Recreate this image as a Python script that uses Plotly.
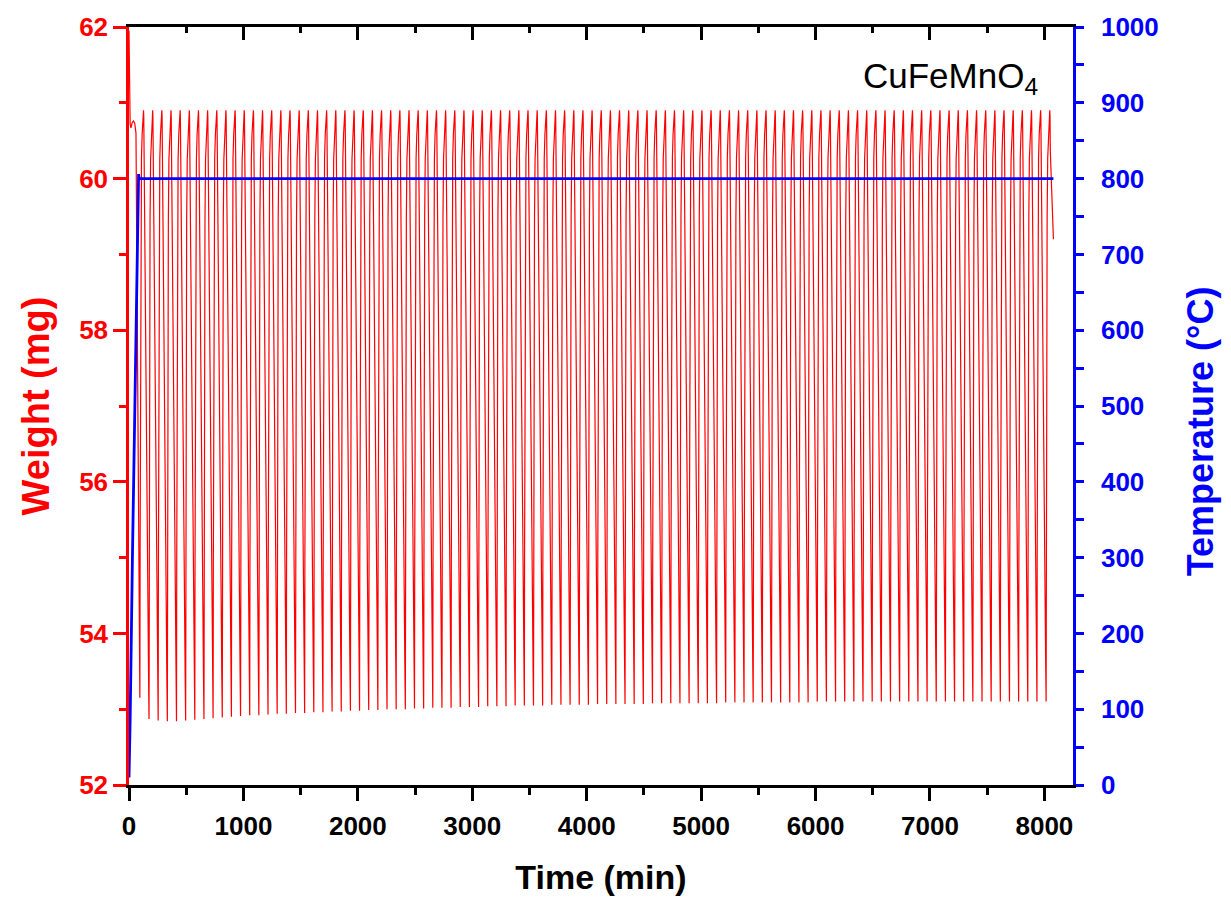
import numpy as np
import plotly.graph_objects as go

# ---------------- data ----------------
period = 80.0            # min per redox cycle
first_trough_time = 95.0 # min
peaks = [60.90] * 100
troughs = [53.15,
           52.87, 52.85, 52.84, 52.84, 52.85, 52.86, 52.87, 52.88, 52.89, 52.90,
           52.91, 52.92, 52.92, 52.93, 52.94, 52.94, 52.95, 52.95, 52.96, 52.96,
           52.97, 52.97, 52.98, 52.98, 52.99, 52.99, 53.00, 53.00, 53.00, 53.01,
           53.01, 53.02, 53.02, 53.02, 53.03, 53.03, 53.03, 53.04, 53.04, 53.04,
           53.05, 53.05, 53.05, 53.05, 53.06, 53.06, 53.06, 53.06, 53.06, 53.07,
           53.07, 53.07, 53.07, 53.07, 53.07, 53.08, 53.08, 53.08, 53.08, 53.08,
           53.08, 53.08, 53.08, 53.09, 53.09, 53.09, 53.09, 53.09, 53.09, 53.09,
           53.09, 53.09, 53.09, 53.10, 53.10, 53.10, 53.10, 53.10, 53.10, 53.10,
           53.10, 53.10, 53.10, 53.10, 53.10, 53.10, 53.10, 53.10, 53.10, 53.10,
           53.10, 53.10, 53.10, 53.10, 53.10, 53.10, 53.10, 53.10, 53.10]
# start of the run (before the first reduction)
start_time = [0, 4, 10, 17, 28, 39, 50, 61, 70, 80, 88]
start_weight = [61.95, 61.2, 60.72, 60.67, 60.74, 60.76, 60.73, 60.60, 58.5, 55.6, 53.9]
end_time = 8079
end_weight = 59.2

# one cycle shape (minutes after trough, fraction trough->peak)
rise_t = [0, 2, 5, 9, 14, 20, 26, 30, 32]
rise_f = [0.0, 0.25, 0.6, 0.82, 0.92, 0.96, 0.98, 0.995, 1.0]
fall_t = [34, 37, 42, 50, 60, 70, 76]
fall_f = [0.99, 0.93, 0.80, 0.60, 0.38, 0.18, 0.07]

temp_time = [0, 10, 30, 50, 70, 80, 84, 88, 95, 8079]
temp_val = [10, 85, 300, 510, 720, 790, 806, 801, 800, 800]

# ---------------- build weight trace ----------------
wt = list(start_time)
ww = list(start_weight)
n = len(peaks)
for k in range(n):
    T = first_trough_time + period * k
    lo, hi = troughs[k], peaks[k]
    for t, f in zip(rise_t, rise_f):
        wt.append(T + t); ww.append(lo + f * (hi - lo))
    if k + 1 < n:
        nlo = troughs[k + 1]
        for t, f in zip(fall_t, fall_f):
            wt.append(T + t); ww.append(nlo + f * (hi - nlo))
    else:
        for t, f in zip(fall_t[:2], fall_f[:2]):
            wt.append(T + t); ww.append(lo + f * (hi - lo))
        wt.append(end_time); ww.append(end_weight)

FONT = "Arial, Liberation Sans, sans-serif"
RED = "#ff0000"
BLUE = "#0000ff"

fig = go.Figure()
fig.add_trace(go.Scatter(x=wt, y=ww, mode="lines", line=dict(color=RED, width=1.2),
                         showlegend=False, hoverinfo="skip"))
fig.add_trace(go.Scatter(x=temp_time, y=temp_val, mode="lines", yaxis="y2",
                         line=dict(color=BLUE, width=2.8), showlegend=False, hoverinfo="skip"))
# invisible trace for top mirror axis
fig.add_trace(go.Scatter(x=[0, 8250], y=[52, 52], xaxis="x2", mode="lines",
                         line=dict(width=0), showlegend=False, hoverinfo="skip"))

xr = [0, 8250]
fig.update_layout(
    width=1231, height=907,
    margin=dict(l=129, r=158, t=24, b=122),
    plot_bgcolor="white", paper_bgcolor="white",
    font=dict(family=FONT),
    xaxis=dict(range=xr, tickvals=list(range(0, 8001, 1000)),
               showline=True, linecolor="black", linewidth=2.5,
               ticks="outside", ticklen=13, tickwidth=2.5, tickcolor="black",
               minor=dict(tickvals=list(range(500, 8001, 1000)), ticks="outside", ticklen=7,
                          tickwidth=2.5, tickcolor="black"),
               showgrid=False, zeroline=False, ticklabelstandoff=3,
               tickfont=dict(family=FONT, size=26, color="black", weight="bold"),
               title=dict(text="Time (min)", standoff=26,
                          font=dict(family=FONT, size=34, color="black", weight="bold"))),
    xaxis2=dict(range=xr, overlaying="x", side="top", tickvals=list(range(0, 8001, 1000)),
                showline=True, linecolor="black", linewidth=2.5,
                ticks="inside", ticklen=13, tickwidth=2.5, tickcolor="black",
                minor=dict(tickvals=list(range(500, 8001, 1000)), ticks="inside", ticklen=6,
                           tickwidth=2.5, tickcolor="black"),
                showticklabels=False, showgrid=False, zeroline=False),
    yaxis=dict(range=[52, 62], tickvals=[52, 54, 56, 58, 60, 62],
               showline=True, linecolor=RED, linewidth=2.5,
               ticks="outside", ticklen=13, tickwidth=2.5, tickcolor=RED,
               minor=dict(tickvals=[53, 55, 57, 59, 61], ticks="outside", ticklen=7,
                          tickwidth=2.5, tickcolor=RED),
               showgrid=False, zeroline=False,
               tickfont=dict(family=FONT, size=26, color=RED, weight="bold"),
               title=dict(text="Weight (mg)", standoff=18,
                          font=dict(family=FONT, size=38, color=RED, weight="bold"))),
    yaxis2=dict(range=[0, 1000], overlaying="y", side="right",
                tickvals=list(range(0, 1001, 100)),
                showline=True, linecolor=BLUE, linewidth=2.5,
                ticks="outside", ticklen=8, tickwidth=2.5, tickcolor=BLUE,
                minor=dict(tickvals=list(range(50, 1000, 100)), ticks="outside", ticklen=8,
                           tickwidth=2.5, tickcolor=BLUE),
                showgrid=False, zeroline=False, ticklabelstandoff=12,
                tickfont=dict(family=FONT, size=26, color=BLUE, weight="bold")),
    annotations=[
        dict(text="CuFeMnO<sub>4</sub>", xref="paper", yref="paper",
             x=0.965, y=0.933, xanchor="right", yanchor="middle", showarrow=False,
             font=dict(family=FONT, size=35, color="black")),
        dict(text="<b>Temperature (°C)</b>", xref="paper", yref="paper",
             x=1.1345, y=0.4665, xanchor="center", yanchor="middle", textangle=-90,
             showarrow=False, font=dict(family=FONT, size=36, color=BLUE)),
    ],
)

fig.write_html("out.html")
